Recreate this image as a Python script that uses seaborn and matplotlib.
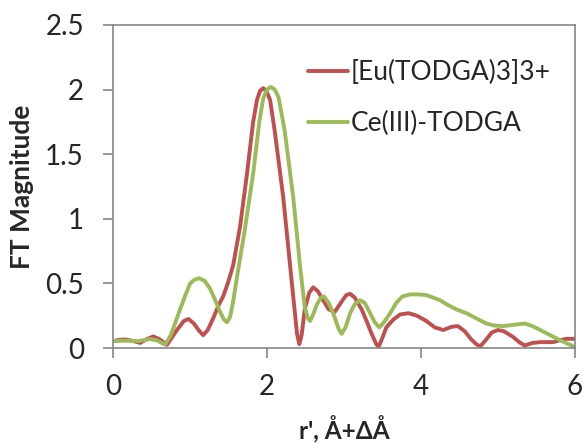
import pandas as pd
import matplotlib.pyplot as plt
import seaborn as sns

# -------------------- DATOS --------------------
r_eu = [0.00, 0.08, 0.16, 0.26, 0.35, 0.44, 0.52, 0.60, 0.70, 0.83, 0.92, 0.98, 1.05,
        1.11, 1.17, 1.23, 1.30, 1.37, 1.43, 1.49, 1.56, 1.65, 1.74, 1.82, 1.87, 1.91,
        1.95, 1.99, 2.04, 2.10, 2.21, 2.32, 2.39, 2.42, 2.45, 2.49, 2.55, 2.60, 2.66,
        2.73, 2.80, 2.88, 2.97, 3.03, 3.08, 3.14, 3.23, 3.30, 3.36, 3.42, 3.45, 3.50,
        3.55, 3.64, 3.73, 3.84, 3.95, 4.07, 4.18, 4.29, 4.40, 4.48, 4.57, 4.65, 4.72,
        4.77, 4.84, 4.92, 5.00, 5.08, 5.20, 5.28, 5.35, 5.45, 5.55, 5.72, 5.80, 5.89, 6.00]
ft_eu = [0.054, 0.064, 0.067, 0.055, 0.040, 0.070, 0.090, 0.070, 0.025, 0.14, 0.21, 0.225, 0.19,
         0.14, 0.10, 0.14, 0.23, 0.33, 0.40, 0.50, 0.64, 0.94, 1.35, 1.75, 1.92, 1.99,
         2.01, 1.99, 1.92, 1.68, 1.17, 0.52, 0.11, 0.03, 0.10, 0.30, 0.43, 0.47, 0.44,
         0.37, 0.30, 0.28, 0.36, 0.41, 0.42, 0.39, 0.30, 0.20, 0.11, 0.03, 0.01, 0.08,
         0.16, 0.22, 0.26, 0.27, 0.25, 0.21, 0.16, 0.14, 0.165, 0.17, 0.13, 0.07, 0.03,
         0.013, 0.06, 0.12, 0.14, 0.13, 0.085, 0.045, 0.02, 0.04, 0.046, 0.046, 0.06, 0.072, 0.072]

r_ce = [0.00, 0.15, 0.33, 0.48, 0.57, 0.675, 0.75, 0.87, 0.94, 1.00, 1.06, 1.12, 1.19,
        1.26, 1.32, 1.39, 1.44, 1.48, 1.52, 1.56, 1.61, 1.71, 1.82, 1.90, 1.95, 2.00,
        2.05, 2.10, 2.15, 2.23, 2.34, 2.43, 2.49, 2.53, 2.56, 2.60, 2.65, 2.70, 2.74,
        2.80, 2.86, 2.93, 2.97, 3.02, 3.08, 3.14, 3.21, 3.27, 3.34, 3.40, 3.46, 3.52,
        3.60, 3.68, 3.76, 3.86, 3.97, 4.07, 4.16, 4.25, 4.33, 4.46, 4.59, 4.72, 4.85,
        4.95, 5.07, 5.20, 5.35, 5.45, 5.55, 5.68, 5.81, 5.92, 6.00]
ft_ce = [0.054, 0.058, 0.054, 0.07, 0.06, 0.026, 0.10, 0.30, 0.41, 0.50, 0.53, 0.54, 0.52,
         0.46, 0.38, 0.28, 0.22, 0.20, 0.24, 0.36, 0.55, 0.91, 1.35, 1.75, 1.93, 2.00,
         2.02, 2.00, 1.94, 1.68, 1.17, 0.63, 0.32, 0.23, 0.21, 0.26, 0.34, 0.39, 0.40,
         0.35, 0.27, 0.15, 0.11, 0.16, 0.27, 0.34, 0.37, 0.35, 0.27, 0.20, 0.16, 0.20,
         0.27, 0.35, 0.40, 0.415, 0.415, 0.41, 0.39, 0.37, 0.34, 0.30, 0.27, 0.23, 0.19,
         0.175, 0.17, 0.18, 0.19, 0.17, 0.14, 0.10, 0.06, 0.03, 0.01]

etiquetas = ['[Eu(TODGA)3]3+', 'Ce(III)-TODGA']
colores = ['#C0504D', '#9BBB59']

df = pd.concat([
    pd.DataFrame({'r': r_eu, 'FT': ft_eu, 'Muestra': etiquetas[0]}),
    pd.DataFrame({'r': r_ce, 'FT': ft_ce, 'Muestra': etiquetas[1]}),
], ignore_index=True)

# -------------------- GRAFICA --------------------
sns.set_style("white")
plt.rcParams['font.family'] = ['Lato', 'DejaVu Sans']

fig = plt.figure(figsize=(5.83, 4.44), dpi=100)
ax = fig.add_axes([0.194, 0.216, 0.792, 0.728])

sns.lineplot(data=df, x='r', y='FT', hue='Muestra', palette=colores,
             sort=False, linewidth=2.8, ax=ax,
             solid_joinstyle='round', solid_capstyle='round')

ax.set_xlim(0, 6)
ax.set_ylim(0, 2.5)
ax.set_xticks([0, 2, 4, 6])
ax.set_yticks([0, 0.5, 1, 1.5, 2, 2.5])
ax.set_yticklabels(['0', '0.5', '1', '1.5', '2', '2.5'])
ax.tick_params(axis='both', direction='out', length=7, width=1.2, color='#868686',
               labelsize=20, bottom=True, left=True)
ax.tick_params(axis='y', pad=14)
ax.tick_params(axis='x', pad=12)

for s in ax.spines.values():
    s.set_color('#868686')
    s.set_linewidth(1.2)

ax.set_xlabel("r', Å+ΔÅ", fontsize=17.5, fontweight='bold', labelpad=11)
ax.set_ylabel('FT Magnitude', fontsize=19, fontweight='bold', labelpad=8)

leg = ax.legend(title=None, frameon=False, fontsize=19, loc='upper left',
                bbox_to_anchor=(0.4, 0.925), handlelength=1.5, handletextpad=0.1,
                labelspacing=1.0, borderaxespad=0)
for h in leg.get_lines():
    h.set_linewidth(2.8)

fig.savefig('out.png', dpi=100)
